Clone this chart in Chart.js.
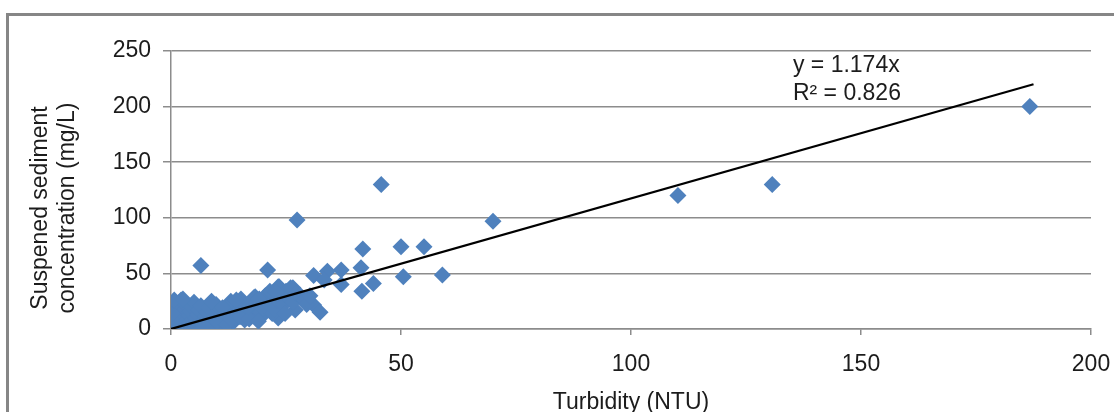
<!DOCTYPE html>
<html>
<head>
<meta charset="utf-8">
<script src="https://cdn.jsdelivr.net/npm/chart.js@4"></script>
<style>
  html, body { margin: 0; padding: 0; background: #fff; overflow: hidden; }
  #wrap { position: relative; width: 1114px; height: 412px; }
  #frame { position: absolute; left: 6px; top: 13px; width: 1200px; height: 500px; border: 3px solid #868686; box-sizing: border-box; }
  canvas { position: absolute; left: 0; top: 0; }
</style>
</head>
<body>
<div id="wrap">
  <div id="frame"></div>
  <canvas id="chart" width="1114" height="412"></canvas>
</div>
<script>
// turbidity (NTU) vs suspended sediment (mg/L)
const turbidity = [
  186.7, 130.7, 110.2, 70, 45.7, 27.4, 6.5, 21, 50, 55, 59, 50.5, 41.7, 41.3, 37, 44, 41.5, 31, 34, 37,
  33.3, 31, 32.4, 27, 18.3, 23.3, 26.5, 28, 20, 23.3, 17.6,
  0.3, 0.5, 0.8, 1, 1.2, 1.5, 1.8, 2.2, 0.4, 0.6, 1, 1.5, 2, 2.5, 3, 3.2, 2.8, 3.5, 4, 4.2,
  4.5, 5, 3.8, 4.8, 5.2, 5.8, 6, 6.5, 6, 7, 7.5, 7.8, 8.2, 8, 9, 9.5, 10, 10.5, 9.8, 11,
  11.5, 12, 12.5, 12.8, 13, 13.5, 14, 14.5, 15, 15.2, 15.5, 16, 16.5, 17, 17.5, 18, 18.5, 19, 19.5, 20,
  20.5, 21, 21.5, 22, 22.5, 23, 23.5, 24, 24.5, 25, 25.5, 26, 26.5, 27, 28, 29, 2, 5, 7, 10,
  12, 13, 15, 17, 19, 0.2, 0.7, 1.3, 2.6, 3.4, 8.8, 11.2, 14.2, 16.8, 19.2, 22.8, 24.8, 29.5, 30.2
];
const sediment = [
  200, 130, 120, 97, 130, 98, 57, 53, 74, 74, 48.5, 47, 72, 55, 53, 41, 34, 48, 52, 40,
  44, 21.5, 15, 17, 29, 38, 37, 30.6, 12.6, 10, 12.6,
  1, 4, 8, 12, 16, 20, 24, 26, 18, 22, 2, 6, 10, 14, 18, 22, 3, 8, 12, 16,
  20, 24, 1, 5, 9, 13, 17, 21, 3, 7, 11, 15, 19, 2, 5, 9, 13, 17, 22, 4,
  8, 12, 16, 21, 25, 6, 10, 14, 19, 27, 23, 8, 12, 16, 20, 28, 24, 11, 15, 19,
  30, 23, 34, 14, 18, 26, 38, 30, 22, 34, 28, 37, 24, 32, 30, 26, 0.5, 1, 3, 6,
  4, 9, 11, 9, 7, 14, 26, 0.5, 27, 3, 25, 19, 26, 20, 27, 33, 14, 22, 30
];

const slope = 1.174;
const rSquared = 0.826;
const trendEnds = [0, 187.5];

const xTicks = [0, 50, 100, 150, 200];
const yTicks = [0, 50, 100, 150, 200, 250];

const xTitle = 'Turbidity (NTU)';
const yTitle = ['Suspened sediment', 'concentration (mg/L)'];

const fontFamily = '"Liberation Sans", Arial, sans-serif';
const textColor = '#1c1c1c';
const gridColor = '#8c8c8c';

function makePoints(xs, ys) {
  return xs.map((x, i) => ({ x: x, y: ys[i] }));
}

const labelsPlugin = {
  id: 'labels',
  afterDraw(chart) {
    const ctx = chart.ctx;
    const xs = chart.scales.x;
    const ys = chart.scales.y;
    ctx.save();
    ctx.fillStyle = textColor;
    ctx.font = '23px ' + fontFamily;
    // trendline equation
    ctx.textAlign = 'left';
    ctx.textBaseline = 'middle';
    const lx = xs.getPixelForValue(135.2);
    const ly = ys.getPixelForValue(237);
    ctx.fillText('y = ' + slope + 'x', lx, ly);
    ctx.fillText('R\u00b2 = ' + rSquared, lx, ly + 28);
    // y axis title, two lines
    ctx.translate(41, 208);
    ctx.rotate(-Math.PI / 2);
    ctx.textAlign = 'center';
    ctx.fillText(yTitle[0], 0, 0);
    ctx.fillText(yTitle[1], 0, 27);
    ctx.restore();
  }
};

const ctx = document.getElementById('chart').getContext('2d');
new Chart(ctx, {
  type: 'scatter',
  data: {
    datasets: [
      {
        label: 'trend',
        type: 'line',
        data: trendEnds.map(x => ({ x: x, y: slope * x })),
        borderColor: '#000',
        borderWidth: 2.2,
        pointRadius: 0,
        order: 1
      },
      {
        label: 'samples',
        data: makePoints(turbidity, sediment),
        pointStyle: 'rectRot',
        pointRadius: 8.5,
        pointBackgroundColor: '#4f81bd',
        pointBorderWidth: 0,
        order: 2
      }
    ]
  },
  options: {
    responsive: false,
    animation: false,
    layout: { padding: { top: 51, right: 23, left: 0, bottom: 0 } },
    plugins: {
      legend: { display: false },
      tooltip: { enabled: false }
    },
    scales: {
      x: {
        type: 'linear',
        min: 0,
        max: 200,
        afterBuildTicks: (scale) => { scale.ticks = xTicks.map(v => ({ value: v })); },
        afterFit: (scale) => {
          scale.height = 83;
          scale.paddingLeft = 0;
          scale.paddingRight = 0;
        },
        grid: { drawOnChartArea: false, drawTicks: true, tickLength: 6, color: gridColor, lineWidth: 1.5 },
        border: { display: true, color: gridColor, width: 1.5 },
        ticks: { color: textColor, font: { family: fontFamily, size: 23 }, padding: 16, maxRotation: 0 },
        title: {
          display: true,
          text: xTitle,
          color: textColor,
          font: { family: fontFamily, size: 23, lineHeight: 1 },
          padding: { top: 0, bottom: -2 }
        }
      },
      y: {
        type: 'linear',
        min: 0,
        max: 250,
        afterBuildTicks: (scale) => { scale.ticks = yTicks.map(v => ({ value: v })); },
        afterFit: (scale) => {
          scale.width = 171;
          scale.paddingTop = 0;
          scale.paddingBottom = 0;
        },
        grid: { drawTicks: true, tickLength: 8, color: gridColor, lineWidth: 1.5 },
        border: { display: true, color: gridColor, width: 1.5 },
        ticks: { color: textColor, font: { family: fontFamily, size: 23 }, padding: 12 }
      }
    }
  },
  plugins: [labelsPlugin]
});
</script>
</body>
</html>
